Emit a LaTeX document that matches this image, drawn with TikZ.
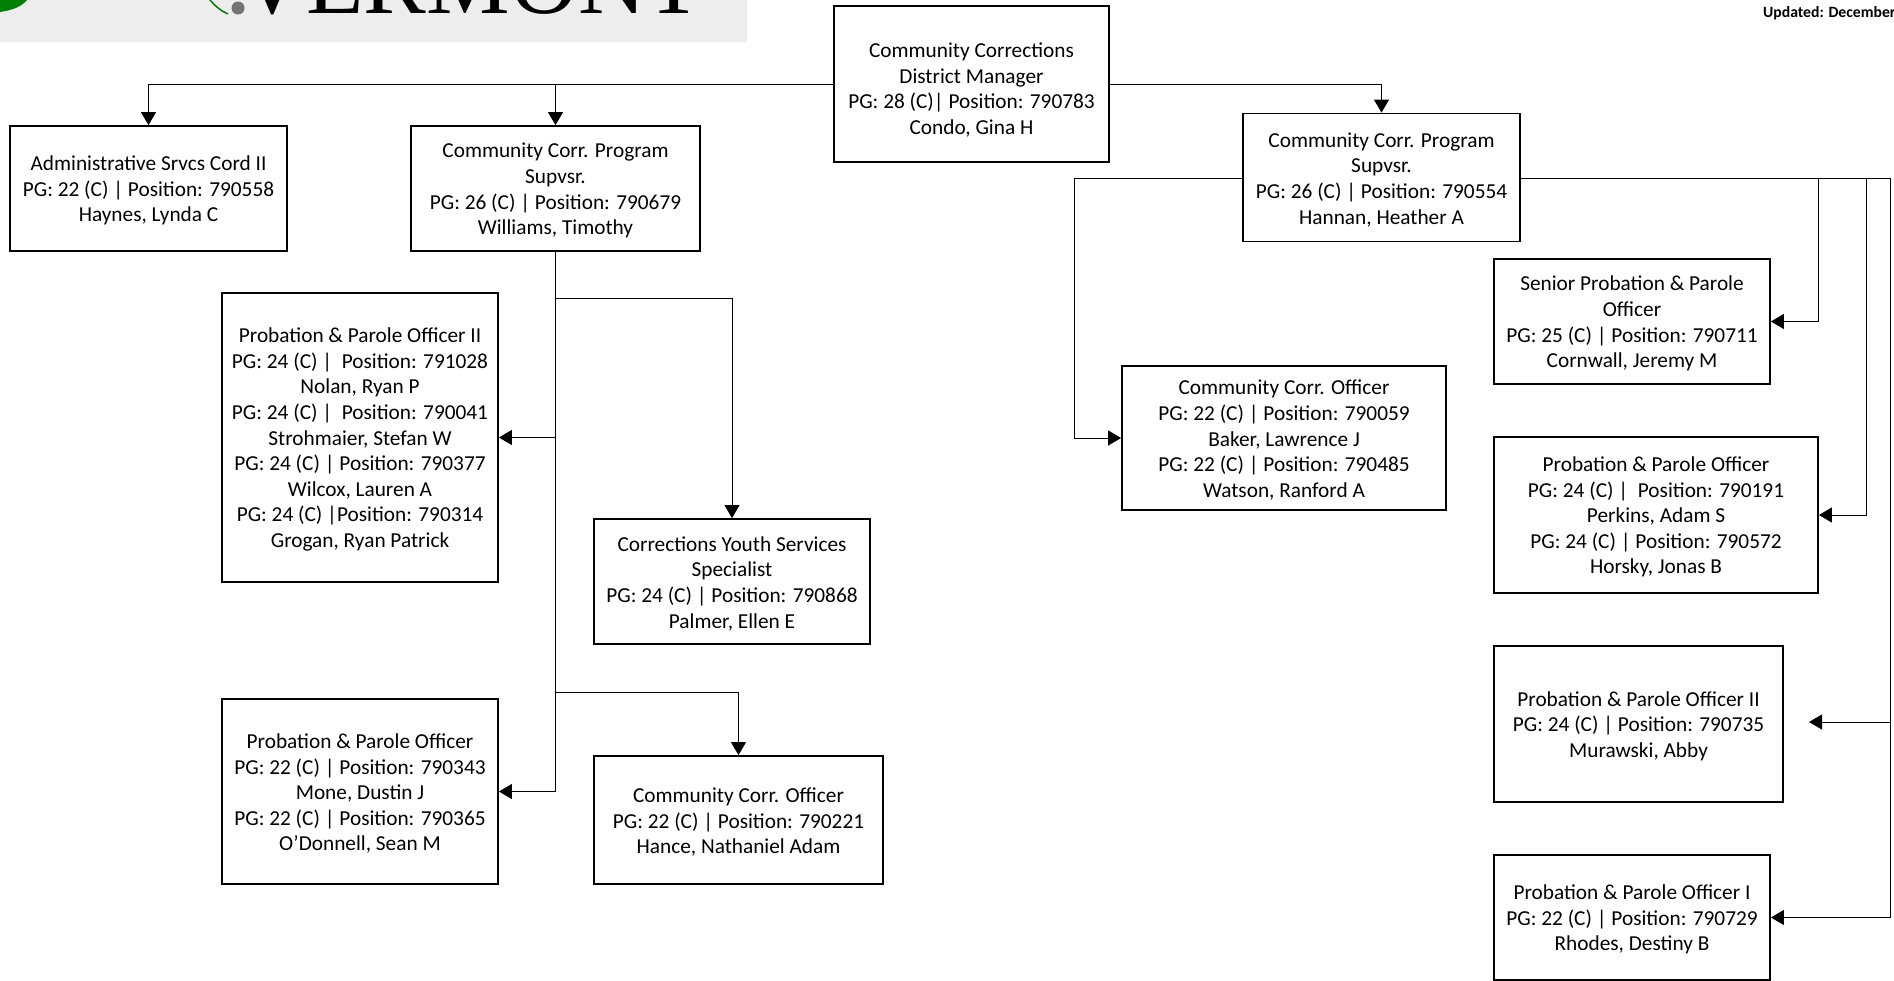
\documentclass[tikz,border=0pt]{standalone}
\usepackage{fontspec}
\usepackage{tikz}
\usetikzlibrary{arrows.meta}
\setmainfont{Carlito}
\newfontfamily\logofont{Liberation Serif}

\tikzset{
    post/.style 2 args={draw, line width=1.8pt, inner sep=0pt, align=center,
        minimum width=#1pt, minimum height=#2pt,
        font=\fontsize{21.3}{25.6}\selectfont},
    link/.style={draw, line width=1pt, -{Triangle[length=13pt,width=15pt]}},
    trunk/.style={draw, line width=1pt},
}

\begin{document}
\begin{tikzpicture}[x=1pt,y=-1pt]
    \def\gap{\rule{0pt}{19pt}}

    \useasboundingbox (0,0) rectangle (1894,980);
    \clip (0,0) rectangle (1894,980);

    % Логотип
    \fill[black!7] (0,0) rectangle (747,42);
    \fill[green!50!black] (0,12) .. controls (14,10) and (22,6) .. (27,0) -- (0,0) -- cycle;
    \draw[green!50!black, line width=1.5pt] (210,0) .. controls (215,6) and (221,11) .. (228,14);
    \node[circle, fill=black!55, inner sep=0pt, minimum size=13pt] (logomark) at (238,8) {};
    \node[anchor=base, inner sep=0pt, font=\logofont\fontsize{94}{94}\selectfont] (logotext) at (471,13) {VERMONT};

    % Дата
    \node[anchor=base west, inner sep=0pt, font=\fontsize{15.7}{18}\selectfont\bfseries] (updated) at (1763,17.5) {Updated: December};

    % Верхний уровень
    \node[post={275}{156}] (manager) at (971.5,84) {\rule{0pt}{27pt}Community Corrections\\District Manager\\PG: 28 (C)| Position: 790783\\Condo, Gina H};
    \node[post={277}{125}] (admin) at (148.5,188.5) {\gap Administrative Srvcs Cord II\\PG: 22 (C) | Position: 790558\\Haynes, Lynda C};
    \node[post={289}{125}] (supvA) at (555.5,188.5) {\gap Community Corr. Program\\Supvsr.\\PG: 26 (C) | Position: 790679\\Williams, Timothy};
    \node[post={277}{128}] (supvB) at (1381.5,177.5) {\gap Community Corr. Program\\Supvsr.\\PG: 26 (C) | Position: 790554\\Hannan, Heather A};

    % Левая ветвь
    \node[post={276}{289}] (officerA) at (360,437.5) {\gap Probation \& Parole Officer II\\PG: 24 (C) |\ \ Position: 791028\\Nolan, Ryan P\\PG: 24 (C) |\ \ Position: 790041\\Strohmaier, Stefan W\\PG: 24 (C) | Position: 790377\\Wilcox, Lauren A\\PG: 24 (C) |Position: 790314\\Grogan, Ryan Patrick};
    \node[post={276}{125}] (youth) at (732,581.5) {\gap Corrections Youth Services\\Specialist\\PG: 24 (C) | Position: 790868\\Palmer, Ellen E};
    \node[post={276}{185}] (officerB) at (360,791.5) {\gap Probation \& Parole Officer\\PG: 22 (C) | Position: 790343\\Mone, Dustin J\\PG: 22 (C) | Position: 790365\\O'Donnell, Sean M};
    \node[post={289}{128}] (corrA) at (738.5,820) {\gap Community Corr. Officer\\PG: 22 (C) | Position: 790221\\Hance, Nathaniel Adam};

    % Правая ветвь
    \node[post={324}{144}] (corrB) at (1284,438) {\gap Community Corr. Officer\\PG: 22 (C) | Position: 790059\\Baker, Lawrence J\\PG: 22 (C) | Position: 790485\\Watson, Ranford A};
    \node[post={276}{125}] (senior) at (1632,321.5) {\gap Senior Probation \& Parole\\Officer\\PG: 25 (C) | Position: 790711\\Cornwall, Jeremy M};
    \node[post={324}{156}] (officerC) at (1656,515) {\gap Probation \& Parole Officer\\PG: 24 (C) |\ \ Position: 790191\\Perkins, Adam S\\PG: 24 (C) | Position: 790572\\Horsky, Jonas B};
    \node[post={289}{156}] (officerD) at (1638.5,724) {\gap Probation \& Parole Officer II\\PG: 24 (C) | Position: 790735\\Murawski, Abby};
    \node[post={276}{125}] (officerE) at (1632,917.5) {\gap Probation \& Parole Officer I\\PG: 22 (C) | Position: 790729\\Rhodes, Destiny B};

    % Точки отводов
    \coordinate (tapA) at (supvA.south |- 0,298);
    \coordinate (tapB) at (supvA.south |- 0,692);
    \coordinate (tapC) at (1074,178);
    \coordinate (tapD) at (1818,178);
    \coordinate (tapE) at (1866,178);
    \coordinate (tapF) at (1890,178);
    \coordinate (gapD) at (1809,722);

    % Соединения сверху
    \draw[link] (manager.west) -| (admin.north);
    \draw[link] (manager.west) -| (supvA.north);
    \draw[link] (manager.east) -| (supvB.north);

    % Соединения слева
    \draw[trunk] (supvA.south) -- (tapA);
    \draw[link] (tapA) -- (tapA -| youth.north) -- (youth.north);
    \draw[link] (tapA) |- (officerA.east);
    \draw[link] (tapA) |- (officerB.east);
    \draw[link] (tapB) -- (tapB -| corrA.north) -- (corrA.north);

    % Соединения справа
    \draw[link] (supvB.west |- tapC) -- (tapC) |- (corrB.west);
    \draw[trunk] (supvB.east |- tapD) -- (tapF);
    \draw[link] (tapD) |- (senior.east);
    \draw[link] (tapE) |- (officerC.east);
    \draw[link] (tapF) |- (gapD);
    \draw[link] (tapF) |- (officerE.east);
\end{tikzpicture}
\end{document}
